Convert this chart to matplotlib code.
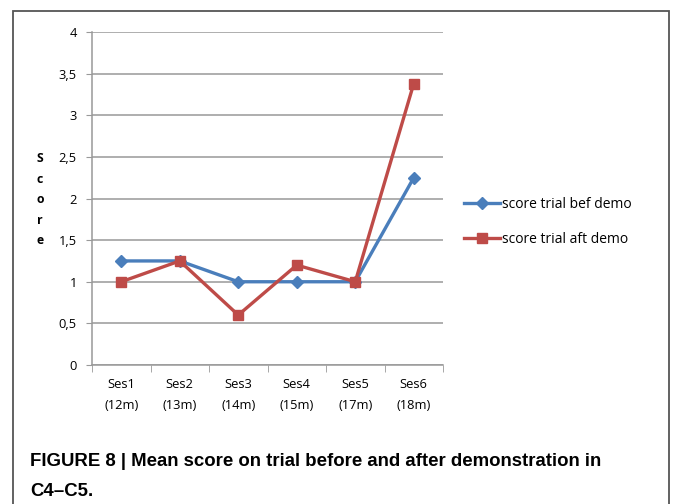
import matplotlib.pyplot as plt
from matplotlib.patches import Rectangle
from matplotlib.ticker import FixedLocator, NullFormatter

# data
sessions = ['Ses1\n(12m)', 'Ses2\n(13m)', 'Ses3\n(14m)',
            'Ses4\n(15m)', 'Ses5\n(17m)', 'Ses6\n(18m)']
before_demo = [1.25, 1.25, 1.0, 1.0, 1.0, 2.25]
after_demo = [1.0, 1.25, 0.6, 1.2, 1.0, 3.38]
y_ticks = [0, 0.5, 1, 1.5, 2, 2.5, 3, 3.5, 4]
y_tick_labels = ['0', '0,5', '1', '1,5', '2', '2,5', '3', '3,5', '4']

plt.rcParams['font.family'] = ['Open Sans', 'DejaVu Sans']

W, H = 673, 504
fig = plt.figure(figsize=(W / 100, H / 100), dpi=100)

# outer frame (open at the bottom)
fig.add_artist(Rectangle((12.5 / W, -0.05), (669 - 12.5) / W, 1.05 - 10.5 / H,
                         transform=fig.transFigure, fill=False,
                         edgecolor='#555555', linewidth=1.3))

ax = fig.add_axes([92 / W, 1 - 365 / H, (443 - 92) / W, (365 - 32) / H])

x = range(len(sessions))
ax.plot(x, before_demo, color='#4A7EBB', linewidth=2.4, marker='D',
        markersize=6, label='score trial bef demo', zorder=3)
ax.plot(x, after_demo, color='#BE4B48', linewidth=2.4, marker='s',
        markersize=7.5, label='score trial aft demo', zorder=4)

ax.set_xlim(-0.5, len(sessions) - 0.5)
ax.set_ylim(0, 4)
ax.set_yticks(y_ticks)
ax.set_yticklabels(y_tick_labels, fontsize=9.3)
ax.yaxis.grid(True, color='#999999', linewidth=1.1)
ax.set_axisbelow(True)

ax.set_xticks(list(x))
ax.set_xticklabels(sessions, fontsize=9.3, linespacing=1.85)
ax.tick_params(axis='x', which='major', length=0, pad=9)
ax.xaxis.set_minor_locator(FixedLocator([i - 0.5 for i in range(len(sessions) + 1)]))
ax.xaxis.set_minor_formatter(NullFormatter())
ax.tick_params(axis='x', which='minor', length=5, color='#999999', direction='out')
ax.tick_params(axis='y', length=4, color='#999999', direction='out', pad=7)

for side in ['top', 'right']:
    ax.spines[side].set_visible(False)
for side in ['left', 'bottom']:
    ax.spines[side].set_color('#999999')
    ax.spines[side].set_linewidth(1.1)

fig.text(40 / W, 1 - 200 / H, 'S\nc\no\nr\ne', fontsize=8.8, fontweight='bold',
         ha='center', va='center', linespacing=1.75)

ax.legend(loc='center left', bbox_to_anchor=(1.025, 0.43), frameon=False,
          fontsize=10, handlelength=2.6, labelspacing=1.4, handletextpad=0.1)

caption_font = ['Liberation Sans Narrow', 'Liberation Sans', 'DejaVu Sans']
fig.text(30 / W, 1 - 462 / H,
         'FIGURE 8 | Mean score on trial before and after demonstration in',
         fontsize=13.4, fontweight='bold', family=caption_font, va='center')
fig.text(30 / W, 1 - 491 / H, 'C4\u2013C5.',
         fontsize=13.4, fontweight='bold', family=caption_font, va='center')

fig.savefig('out.png', dpi=100)
